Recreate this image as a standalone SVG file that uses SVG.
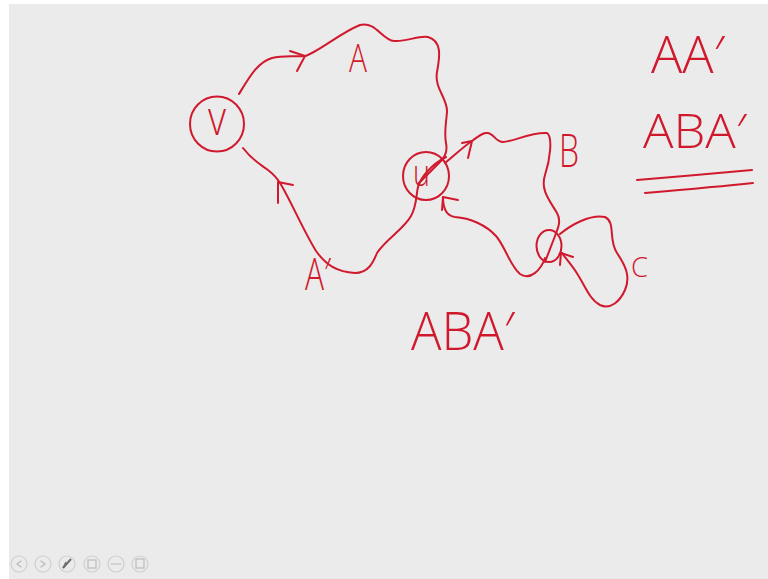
<svg xmlns="http://www.w3.org/2000/svg" width="768" height="579" viewBox="0 0 768 579">
  <defs>
    <style>
      .ink { fill: none; stroke: #d1192e; stroke-width: 2; stroke-linecap: round; stroke-linejoin: round; }
      .lbl { fill: #d1192e; font-family: "Open Sans", "Liberation Sans", sans-serif; font-weight: 300; }
      .tool { fill: none; stroke: #cfcfcf; stroke-width: 1.2; }
      .glyph { fill: none; stroke: #b9b9b9; stroke-width: 1.2; stroke-linecap: round; }
    </style>
  </defs>

  <!-- board -->
  <rect x="0" y="0" width="768" height="579" fill="#ffffff"/>
  <rect x="9" y="4" width="759" height="575" fill="#ebebeb"/>

  <!-- vertices -->
  <g id="node-v">
    <ellipse class="ink" cx="217" cy="124" rx="27" ry="27.5"/>
    <text class="lbl" x="208" y="135" font-size="48" textLength="18" lengthAdjust="spacingAndGlyphs">v</text>
  </g>
  <g id="node-u">
    <ellipse class="ink" cx="426" cy="176" rx="23" ry="24"/>
    <text class="lbl" x="413" y="186" font-size="36" textLength="17" lengthAdjust="spacingAndGlyphs">u</text>
  </g>
  <g id="node-w">
    <ellipse class="ink" cx="549" cy="246" rx="12.5" ry="16"/>
  </g>

  <!-- walks between vertices -->
  <g id="connectors">
    <!-- A : v to u, over the top -->
    <path class="ink" d="M239,94 C250,76 258,62 272,58 C284,55 295,57 305,56 C318,52 340,33 360,25 C376,21 382,40 394,41 C407,42 419,35 428,37 C442,41 440,56 437,72 C434,88 448,99 447,112 C446,124 444,132 446,143 C448,153 444,158 438,164 L419,183"/>
    <path class="ink" d="M290,51 L305,56 L297,71"/>
    <!-- A' : u back to v, underneath -->
    <path class="ink" d="M243,148 C252,160 260,164 268,170 C273,174 277,178 280,183 C291,201 302,228 316,251 C326,265 337,272 355,273 C368,273 373,263 377,253 C386,239 404,229 411,216 C417,205 416,195 418,187 C421,177 431,165 446,157"/>
    <path class="ink" d="M278,203 L278,182 L293,185"/>
    <!-- B : u to w -->
    <path class="ink" d="M445,163 C455,155 463,147 472,141 C478,137 482,132 488,133 C494,134 496,142 503,142 C513,142 530,132 547,133 C553,137 550,160 545,175 C540,190 550,201 557,213 C562,222 557,230 555,236 L545,262"/>
    <path class="ink" d="M462,143 L472,141 L468,158"/>
    <!-- w back to u -->
    <path class="ink" d="M545,258 C541,270 530,281 520,274 C510,266 505,246 496,236 C486,225 470,218 455,217 C447,216 443,210 443,197"/>
    <path class="ink" d="M442,210 L443,197 L458,200"/>
    <!-- C : loop at w -->
    <path class="ink" d="M560,234 C571,225 590,214 605,217 C616,222 608,240 617,253 C625,265 631,276 625,290 C620,301 611,310 600,305 C590,300 585,286 578,275 C572,265 566,259 562,253"/>
    <path class="ink" d="M560,265 L561,253 L573,257"/>
  </g>

  <!-- walk labels -->
  <g id="labels">
    <text class="lbl" x="349" y="72" font-size="38" textLength="18" lengthAdjust="spacingAndGlyphs">A</text>
    <text class="lbl" x="559" y="167" font-size="46" textLength="20" lengthAdjust="spacingAndGlyphs">B</text>
    <text class="lbl" x="631" y="277" font-size="28" textLength="17" lengthAdjust="spacingAndGlyphs">C</text>
    <text class="lbl" x="305" y="290" font-size="44" textLength="26" lengthAdjust="spacingAndGlyphs">A′</text>
    <text class="lbl" x="411" y="350" font-size="54" textLength="104" lengthAdjust="spacingAndGlyphs">ABA′</text>
  </g>

  <!-- side notes -->
  <g id="notes">
    <text class="lbl" x="651" y="73" font-size="52" textLength="74" lengthAdjust="spacingAndGlyphs">AA′</text>
    <text class="lbl" x="643" y="148" font-size="48" textLength="104" lengthAdjust="spacingAndGlyphs">ABA′</text>
    <path class="ink" d="M637,180 C670,177 720,173 752,170"/>
    <path class="ink" d="M645,193 C680,190 725,186 753,183"/>
  </g>

  <!-- presenter toolbar -->
  <g id="toolbar">
    <circle class="tool" cx="19" cy="564" r="8"/>
    <path class="glyph" d="M21,561 L17,564 L21,567"/>
    <circle class="tool" cx="43" cy="564" r="8"/>
    <path class="glyph" d="M41,561 L45,564 L41,567"/>
    <circle class="tool" cx="67" cy="564" r="8"/>
    <path d="M63,568 L71,559" stroke="#6f6f6f" stroke-width="2" fill="none"/>
    <path d="M63,568 L66,562" stroke="#6f6f6f" stroke-width="1.4" fill="none"/>
    <circle class="tool" cx="92" cy="564" r="8"/>
    <rect x="88" y="560" width="8" height="8" fill="none" stroke="#b9b9b9" stroke-width="1.1"/>
    <circle class="tool" cx="116" cy="564" r="8"/>
    <path class="glyph" d="M111,564 L121,564"/>
    <circle class="tool" cx="140" cy="564" r="8"/>
    <rect x="136" y="559" width="8" height="9" fill="none" stroke="#b9b9b9" stroke-width="1.1"/>
  </g>
</svg>
